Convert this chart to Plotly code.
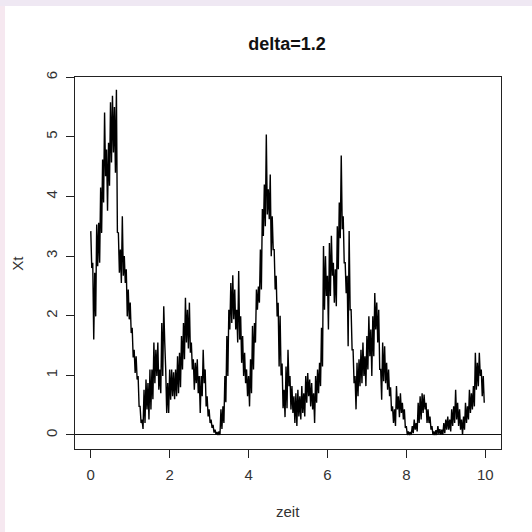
import numpy as np
import plotly.graph_objects as go

# Simulated path values (envelope of the dense path, pairs per 0.05 time units)
xt = [
    3.42, 2.80, 2.89, 1.60, 2.72, 1.99, 3.53, 2.83, 3.56, 2.89,
    4.15, 3.39, 4.62, 3.90, 5.41, 4.34, 4.79, 3.76, 4.90, 4.18,
    5.58, 4.57, 5.69, 4.74, 5.50, 4.40, 5.79, 3.40, 3.39, 2.72,
    3.11, 2.55, 3.67, 2.67, 3.00, 2.55, 2.78, 1.99, 2.44, 1.94,
    2.22, 1.71, 1.80, 1.30, 1.43, 1.04, 1.32, 0.93, 0.99, 0.48,
    0.48, 0.20, 0.26, 0.10, 0.76, 0.20, 0.93, 0.43, 0.87, 0.26,
    1.10, 0.43, 1.10, 0.60, 1.55, 0.87, 1.43, 0.99, 1.55, 0.76,
    1.10, 0.70, 1.88, 0.99, 2.16, 1.55, 1.10, 0.37, 0.87, 0.37,
    1.10, 0.59, 1.10, 0.65, 1.05, 0.60, 1.10, 0.65, 1.32, 0.70,
    1.38, 0.80, 1.66, 1.10, 1.88, 1.27, 2.30, 1.55, 2.10, 1.45,
    2.22, 1.38, 1.55, 1.10, 1.27, 0.76, 1.21, 0.87, 1.27, 0.70,
    0.99, 0.37, 0.99, 0.65, 1.43, 0.87, 1.10, 0.48, 0.65, 0.31,
    0.43, 0.20, 0.26, 0.12, 0.17, 0.04, 0.09, 0.01, 0.05, 0.00,
    0.06, 0.00, 0.43, 0.10, 0.48, 0.20, 0.99, 0.55, 1.66, 0.99,
    2.10, 1.77, 2.55, 1.88, 2.68, 1.94, 2.44, 1.77, 2.10, 1.55,
    2.75, 1.60, 1.99, 1.21, 1.66, 0.99, 1.38, 0.87, 1.10, 0.65,
    0.99, 0.48, 1.27, 0.70, 1.83, 1.10, 1.88, 1.55, 2.44, 2.10,
    2.49, 2.22, 3.11, 2.44, 3.79, 3.34, 4.20, 3.50, 5.04, 3.70,
    4.12, 3.62, 4.37, 3.00, 3.67, 3.11, 3.11, 2.44, 2.67, 1.99,
    2.22, 1.15, 2.00, 1.00, 1.20, 0.45, 0.76, 0.30, 1.15, 0.45,
    1.43, 0.82, 0.99, 0.43, 0.82, 0.37, 0.65, 0.20, 0.70, 0.15,
    0.76, 0.31, 0.65, 0.26, 0.82, 0.37, 0.70, 0.31, 0.99, 0.54,
    1.04, 0.65, 0.93, 0.48, 0.87, 0.43, 0.70, 0.20, 0.99, 0.54,
    1.10, 0.70, 1.21, 0.82, 1.80, 1.15, 3.17, 2.10, 3.00, 2.33,
    2.67, 1.77, 3.22, 2.33, 3.34, 2.67, 2.89, 2.22, 2.78, 2.16,
    3.50, 2.78, 3.90, 3.30, 4.69, 3.45, 3.67, 2.89, 2.89, 2.38,
    2.67, 1.49, 3.42, 2.10, 2.10, 1.43, 1.43, 0.87, 0.99, 0.43,
    1.21, 0.65, 1.27, 0.82, 1.43, 0.87, 1.55, 0.99, 1.32, 0.82,
    1.66, 1.10, 1.99, 1.32, 1.77, 0.99, 1.99, 1.32, 2.38, 1.77,
    2.22, 1.55, 2.10, 1.10, 1.10, 0.59, 1.55, 0.90, 1.49, 0.87,
    1.21, 0.76, 1.10, 0.65, 0.80, 0.40, 0.48, 0.20, 0.43, 0.15,
    0.82, 0.43, 0.65, 0.30, 0.70, 0.37, 0.54, 0.26, 0.43, 0.12,
    0.15, 0.00, 0.06, 0.00, 0.05, 0.00, 0.15, 0.03, 0.26, 0.09,
    0.20, 0.06, 0.54, 0.20, 0.65, 0.26, 0.70, 0.37, 0.68, 0.43,
    0.54, 0.20, 0.43, 0.20, 0.31, 0.09, 0.15, 0.00, 0.06, 0.00,
    0.08, 0.00, 0.15, 0.02, 0.10, 0.00, 0.09, 0.00, 0.20, 0.03,
    0.26, 0.09, 0.31, 0.09, 0.26, 0.06, 0.43, 0.15, 0.48, 0.20,
    0.76, 0.26, 0.54, 0.15, 0.43, 0.09, 0.26, 0.00, 0.31, 0.09,
    0.54, 0.20, 0.48, 0.26, 0.76, 0.37, 0.70, 0.43, 0.82, 0.48,
    1.38, 0.76, 1.21, 0.82, 1.38, 0.99, 1.10, 0.65, 0.99, 0.54,
]
zeit = np.round(np.arange(len(xt)) * 0.025, 3)

x_ticks = [0, 2, 4, 6, 8, 10]
y_ticks = [0, 1, 2, 3, 4, 5, 6]
title_text = "delta=1.2"
x_label = "zeit"
y_label = "Xt"

FONT = "Liberation Sans, Arial, sans-serif"
W, H = 532, 532
L, R, T, B = 75, 31, 77, 83
PW, PH = W - L - R, H - T - B

def px_x(px):
    return (px - L) / PW

def px_y(py):
    return (H - B - py) / PH

fig = go.Figure()
fig.add_trace(go.Scatter(
    x=zeit, y=xt, mode="lines",
    line=dict(color="black", width=1.4, simplify=False),
    hoverinfo="skip", showlegend=False,
))

axis_common = dict(
    showline=True, linecolor="#222", linewidth=1, mirror=True,
    showgrid=False, ticks="outside", ticklen=8, tickcolor="#222", tickwidth=1,
    tickfont=dict(family=FONT, size=15, color="#333"),
)
fig.update_xaxes(range=[-0.4, 10.4], tickvals=x_ticks, zeroline=False,
                 ticklabelstandoff=4, **axis_common)
fig.update_yaxes(range=[-0.235, 6.005], tickvals=y_ticks, tickangle=-90,
                 zeroline=True, zerolinecolor="#111", zerolinewidth=1,
                 ticklabelstandoff=3, **axis_common)

shapes = [
    dict(type="rect", xref="paper", yref="paper", x0=px_x(0), x1=px_x(5),
         y0=px_y(H), y1=px_y(0), fillcolor="#f6e8f0", line=dict(width=0), layer="below"),
    dict(type="rect", xref="paper", yref="paper", x0=px_x(0), x1=px_x(W),
         y0=px_y(6), y1=px_y(0), fillcolor="#efe8f3", line=dict(width=0), layer="below"),
]

annotations = [
    dict(text=x_label, xref="paper", yref="paper", x=0.5, y=px_y(511.5),
         xanchor="center", yanchor="middle", showarrow=False,
         font=dict(family=FONT, size=15, color="#333")),
    dict(text=y_label, xref="paper", yref="paper", x=px_x(16.7), y=0.5,
         xanchor="center", yanchor="middle", showarrow=False, textangle=-90,
         font=dict(family=FONT, size=15, color="#333")),
]

fig.update_layout(
    width=W, height=H, autosize=False,
    margin=dict(l=L, r=R, t=T, b=B, pad=0),
    paper_bgcolor="white", plot_bgcolor="white",
    title=dict(text="<b>" + title_text + "</b>", x=287 / W,
               xanchor="center", y=1 - 44 / H, yanchor="middle", yref="container",
               font=dict(family=FONT, size=18, color="#111")),
    shapes=shapes, annotations=annotations, showlegend=False,
)

fig.write_html(
    "out.html",
    config={"displayModeBar": False},
    post_script="document.body.style.margin='0';document.body.style.overflow='hidden';",
)
